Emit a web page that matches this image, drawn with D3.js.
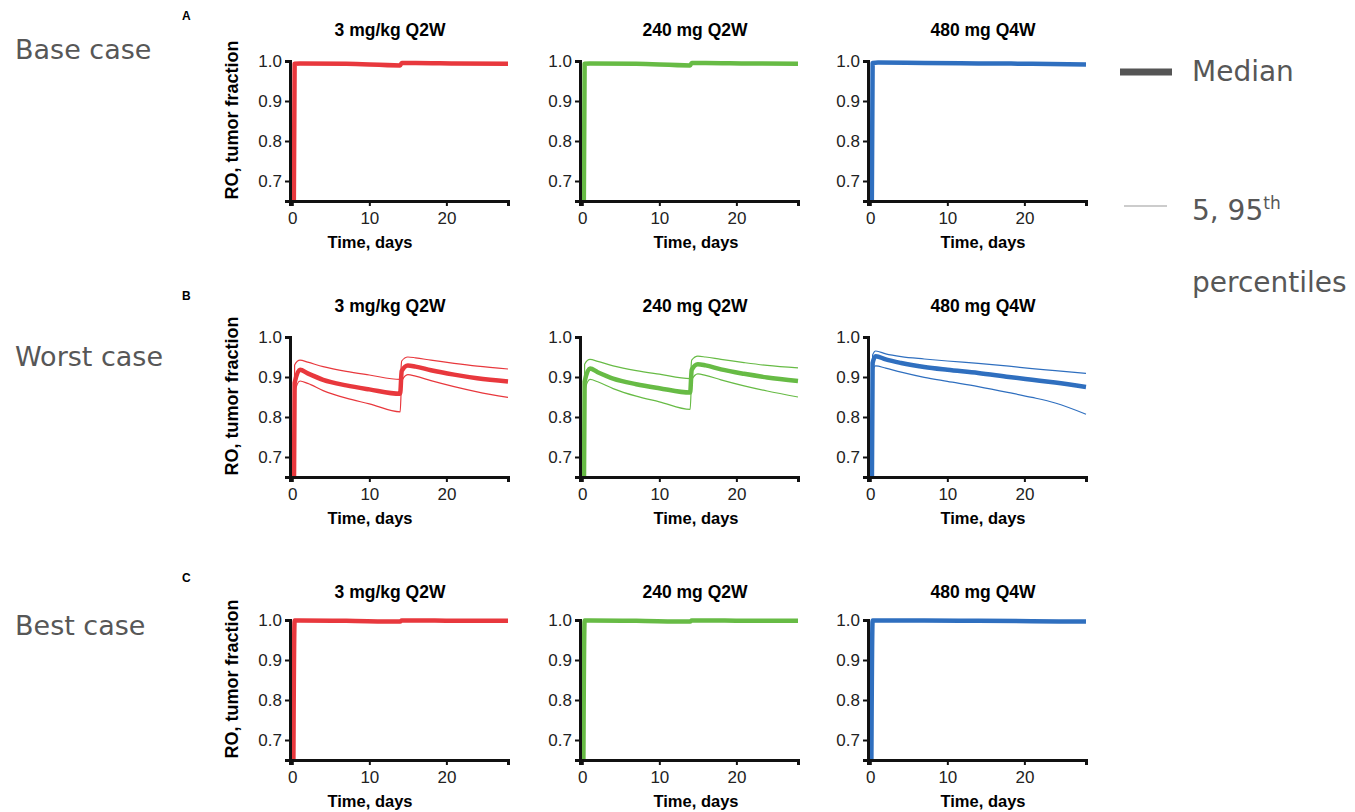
<!DOCTYPE html>
<html>
<head>
<meta charset="utf-8">
<script src="https://cdn.jsdelivr.net/npm/d3@7"></script>
<style>
  body { margin: 0; background: #fff; }
  svg { display: block; }
  .tick text { font-family: "Liberation Sans", Arial, sans-serif; }
</style>
</head>
<body>
<svg width="1355" height="812"></svg>
<script>
// ---- data ----
var panelLetters = ['A', 'B', 'C'],
    caseLabels = ['Base case', 'Worst case', 'Best case'],
    regimens = ['3 mg/kg Q2W', '240 mg Q2W', '480 mg Q4W'],
    colors = ['#e8383d', '#67bb45', '#2f6fbf'],
    yTicks = [0.7, 0.8, 0.9, 1.0],
    xTicks = [0, 10, 20]

// time points (days)
var daysQ2W = [0, 0.3, 1, 2, 4, 7, 10, 14, 14.2, 15, 16, 18, 21, 24, 28],
    daysQ4W = [0, 0.3, 0.7, 2, 4, 7, 10, 14, 18, 21, 24, 28],
    daysFlatQ2W = [0, 0.3, 1, 7, 14, 14.2, 16, 21, 28],
    daysFlatQ4W = [0, 0.3, 1, 7, 14, 21, 28]

// base case medians
var baseRed   = [0, 0.993, 0.994, 0.993, 0.989, 0.995, 0.995, 0.994, 0.993],
    baseGreen = [0, 0.993, 0.994, 0.993, 0.989, 0.995, 0.995, 0.994, 0.993],
    baseBlue  = [0, 0.995, 0.996, 0.995, 0.994, 0.993, 0.991]

// worst case: median, 5th, 95th
var worstRedMed = [0, 0.885, 0.918, 0.909, 0.893, 0.879, 0.869, 0.858, 0.915, 0.929, 0.926, 0.917, 0.906, 0.897, 0.889],
    worstRedP95 = [0, 0.930, 0.942, 0.937, 0.926, 0.914, 0.905, 0.894, 0.940, 0.950, 0.948, 0.942, 0.934, 0.927, 0.920],
    worstRedP5  = [0, 0.860, 0.890, 0.884, 0.866, 0.847, 0.833, 0.813, 0.890, 0.906, 0.902, 0.891, 0.876, 0.863, 0.849],
    worstGreenMed = [0, 0.888, 0.921, 0.912, 0.896, 0.882, 0.872, 0.861, 0.918, 0.932, 0.929, 0.919, 0.908, 0.899, 0.890],
    worstGreenP95 = [0, 0.932, 0.944, 0.939, 0.928, 0.916, 0.907, 0.896, 0.942, 0.952, 0.950, 0.944, 0.936, 0.929, 0.923],
    worstGreenP5  = [0, 0.864, 0.894, 0.888, 0.871, 0.852, 0.838, 0.819, 0.893, 0.908, 0.904, 0.893, 0.878, 0.865, 0.850],
    worstBlueMed = [0, 0.935, 0.952, 0.944, 0.935, 0.925, 0.918, 0.910, 0.900, 0.893, 0.886, 0.875],
    worstBlueP95 = [0, 0.955, 0.965, 0.958, 0.951, 0.945, 0.940, 0.934, 0.927, 0.921, 0.916, 0.909],
    worstBlueP5  = [0, 0.915, 0.928, 0.922, 0.912, 0.899, 0.889, 0.876, 0.861, 0.849, 0.835, 0.807]

// best case medians
var bestRed   = [0, 0.999, 0.999, 0.998, 0.996, 0.999, 0.999, 0.998, 0.998],
    bestGreen = [0, 0.999, 0.999, 0.998, 0.996, 0.999, 0.999, 0.998, 0.998],
    bestBlue  = [0, 0.999, 0.999, 0.999, 0.998, 0.997, 0.996]

// rows -> columns -> list of {days, values, median?}
var rows = [
  [ [{t: daysFlatQ2W, v: baseRed, med: true}],
    [{t: daysFlatQ2W, v: baseGreen, med: true}],
    [{t: daysFlatQ4W, v: baseBlue, med: true}] ],
  [ [{t: daysQ2W, v: worstRedP95}, {t: daysQ2W, v: worstRedP5}, {t: daysQ2W, v: worstRedMed, med: true}],
    [{t: daysQ2W, v: worstGreenP95}, {t: daysQ2W, v: worstGreenP5}, {t: daysQ2W, v: worstGreenMed, med: true}],
    [{t: daysQ4W, v: worstBlueP95}, {t: daysQ4W, v: worstBlueP5}, {t: daysQ4W, v: worstBlueMed, med: true}] ],
  [ [{t: daysFlatQ2W, v: bestRed, med: true}],
    [{t: daysFlatQ2W, v: bestGreen, med: true}],
    [{t: daysFlatQ4W, v: bestBlue, med: true}] ]
]

// ---- layout ----
var svg = d3.select('svg'),
    rowTops = [61, 337, 620],
    titleDy = [-25, -25, -22],
    letterY = [20, 300, 582],
    caseLabelY = [59, 366, 635],
    colLefts = [290, 580, 868],
    titleCx = [100, 115, 115],
    xLabelCx = [80, 116, 115],
    plotW = 218,
    plotH = 140,
    textGrey = '#575757',
    sans = 'Liberation Sans, Arial, sans-serif'

var x = d3.scaleLinear().domain([-0.3, 28]).range([0, plotW]),
    y = d3.scaleLinear().domain([0.65, 1.0]).range([plotH, 0])

var line = d3.line()
    .x(d => x(d[0]))
    .y(d => y(d[1]))
    .curve(d3.curveMonotoneX)

svg.append('defs').append('clipPath').attr('id', 'plotclip')
  .append('rect').attr('x', 1).attr('y', -10).attr('width', plotW + 2).attr('height', plotH + 10 - 1)

rows.forEach((row, r) => {
    var top = rowTops[r]

    svg.append('text')
        .attr('x', 15).attr('y', caseLabelY[r])
        .attr('font-family', 'DejaVu Sans, sans-serif')
        .attr('font-size', 27)
        .attr('fill', textGrey)
        .text(caseLabels[r])

    svg.append('text')
        .attr('x', 182).attr('y', letterY[r])
        .attr('font-family', sans)
        .attr('font-weight', 'bold')
        .attr('font-size', 12)
        .text(panelLetters[r])

    row.forEach((series, c) => {
        var g = svg.append('g')
            .attr('transform', `translate(${colLefts[c]},${top})`)

        g.append('text')
            .attr('x', titleCx[c]).attr('y', titleDy[r])
            .attr('text-anchor', 'middle')
            .attr('font-family', sans)
            .attr('font-weight', 'bold')
            .attr('font-size', 17.5)
            .text(regimens[c])

        var plot = g.append('g').attr('clip-path', 'url(#plotclip)')
        series.forEach(s => {
            plot.append('path')
                .datum(s.t.map((t, i) => [t, s.v[i]]))
                .attr('d', line)
                .attr('fill', 'none')
                .attr('stroke', colors[c])
                .attr('stroke-width', s.med ? 4.5 : 1.2)
                .attr('stroke-linejoin', 'round')
        })

        var yAxis = g.append('g')
            .call(d3.axisLeft(y).tickValues(yTicks).tickFormat(d3.format('.1f'))
                .tickSizeOuter(0).tickSize(5).tickPadding(3))
        var xAxis = g.append('g')
            .attr('transform', `translate(0,${plotH})`)
            .call(d3.axisBottom(x).tickValues(xTicks)
                .tickSizeOuter(0).tickSize(5).tickPadding(6))

        ;[yAxis, xAxis].forEach(a => {
            a.select('.domain').attr('stroke', '#111').attr('stroke-width', 3)
            a.selectAll('.tick line').attr('stroke', '#111').attr('stroke-width', 2)
            a.selectAll('.tick text').attr('font-size', 17).attr('fill', '#222')
        })

        g.append('text')
            .attr('x', xLabelCx[c]).attr('y', plotH + 47)
            .attr('text-anchor', 'middle')
            .attr('font-family', sans)
            .attr('font-weight', 'bold')
            .attr('font-size', 16.5)
            .text('Time, days')

        if (c === 0) {
            g.append('text')
                .attr('transform', `translate(-52,${plotH / 2 - 11})rotate(-90)`)
                .attr('text-anchor', 'middle')
                .attr('font-family', sans)
                .attr('font-weight', 'bold')
                .attr('font-size', 18)
                .text('RO, tumor fraction')
        }
    })
})

// legend
var legend = svg.append('g')
legend.append('line')
    .attr('x1', 1120).attr('x2', 1172).attr('y1', 72).attr('y2', 72)
    .attr('stroke', '#555').attr('stroke-width', 7)
legend.append('text')
    .attr('x', 1192).attr('y', 81)
    .attr('font-family', 'DejaVu Sans, sans-serif').attr('font-size', 28).attr('fill', textGrey)
    .text('Median')
legend.append('line')
    .attr('x1', 1124).attr('x2', 1167).attr('y1', 206).attr('y2', 206)
    .attr('stroke', '#999').attr('stroke-width', 1)
var pct = legend.append('text')
    .attr('x', 1192).attr('y', 220)
    .attr('font-family', 'DejaVu Sans, sans-serif').attr('font-size', 28).attr('fill', textGrey)
pct.append('tspan').text('5, 95')
pct.append('tspan').attr('font-size', 17).attr('dy', -11).text('th')
legend.append('text')
    .attr('x', 1192).attr('y', 292)
    .attr('font-family', 'DejaVu Sans, sans-serif').attr('font-size', 28).attr('fill', textGrey)
    .text('percentiles')
</script>
</body>
</html>
